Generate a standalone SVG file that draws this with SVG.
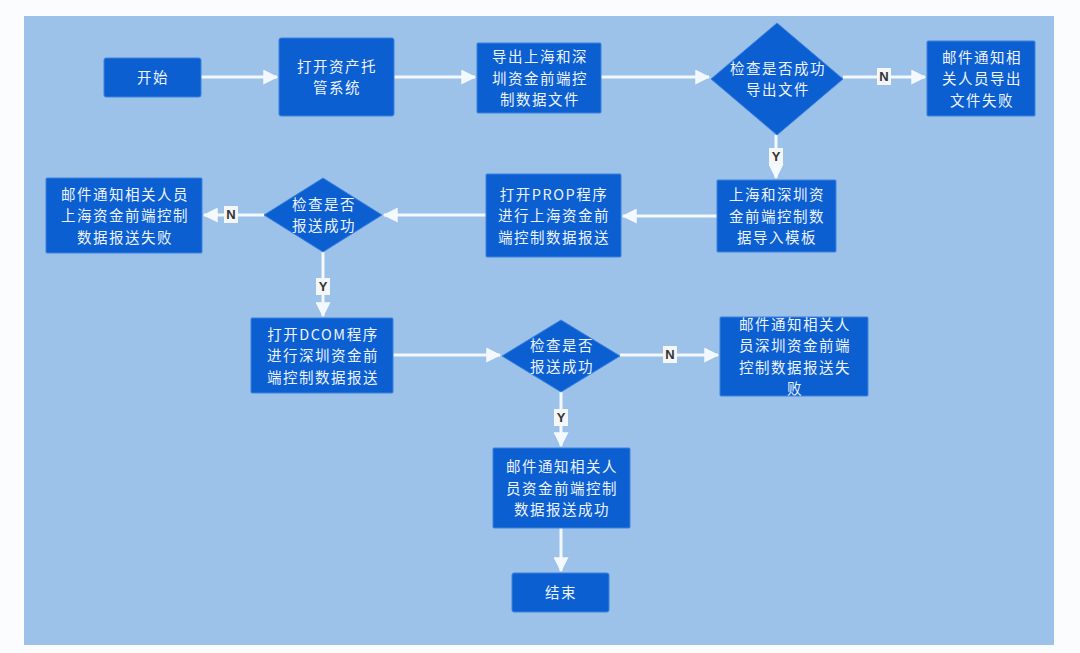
<svg xmlns="http://www.w3.org/2000/svg" width="1080" height="653" viewBox="0 0 1080 653">
<defs>
<style>
.box{fill:#0b5fd1;stroke:#3d83de;stroke-width:1}
.t{font-family:"Noto Sans CJK SC","Noto Sans",sans-serif;font-size:14.5px;letter-spacing:1.5px;fill:#eef4ff;text-anchor:middle}
.c{stroke:#f4f8ff;stroke-width:3;fill:none}
.lb{fill:#f4f6f8}
.lt{font-family:"Liberation Sans","DejaVu Sans",sans-serif;font-size:13px;font-weight:bold;fill:#333;text-anchor:middle}
</style>
<marker id="ah" viewBox="0 0 12 12" refX="11" refY="6" markerWidth="5" markerHeight="5" markerUnits="strokeWidth" orient="auto">
<path d="M0,0 L12,6 L0,12 z" fill="#f4f8ff"/>
</marker>
</defs>
<rect x="0" y="0" width="1080" height="653" fill="#fbfcfe"/>
<rect x="24" y="16" width="1030" height="629" fill="#9cc2e9"/>

<g id="connectors">
<line class="c" x1="201" y1="77" x2="277" y2="77" marker-end="url(#ah)"/>
<line class="c" x1="394" y1="77" x2="475" y2="77" marker-end="url(#ah)"/>
<line class="c" x1="601" y1="77" x2="709" y2="77" marker-end="url(#ah)"/>
<line class="c" x1="843" y1="77" x2="925" y2="77" marker-end="url(#ah)"/>
<line class="c" x1="776" y1="135" x2="776" y2="178" marker-end="url(#ah)"/>
<line class="c" x1="717" y1="216" x2="623" y2="216" marker-end="url(#ah)"/>
<line class="c" x1="486" y1="215" x2="384" y2="215" marker-end="url(#ah)"/>
<line class="c" x1="264" y1="215" x2="204" y2="215" marker-end="url(#ah)"/>
<line class="c" x1="323" y1="252" x2="323" y2="316" marker-end="url(#ah)"/>
<line class="c" x1="393" y1="355" x2="500" y2="355" marker-end="url(#ah)"/>
<line class="c" x1="620" y1="355" x2="718" y2="355" marker-end="url(#ah)"/>
<line class="c" x1="561" y1="392" x2="561" y2="446" marker-end="url(#ah)"/>
<line class="c" x1="561" y1="528" x2="561" y2="571" marker-end="url(#ah)"/>
<rect class="lb" x="877" y="68" width="14" height="17"/>
<text class="lt" x="884" y="81">N</text>
<rect class="lb" x="769" y="148" width="14" height="17"/>
<text class="lt" x="776" y="161">Y</text>
<rect class="lb" x="224" y="206" width="14" height="17"/>
<text class="lt" x="231" y="219">N</text>
<rect class="lb" x="316" y="278" width="14" height="17"/>
<text class="lt" x="323" y="291">Y</text>
<rect class="lb" x="663" y="346" width="14" height="17"/>
<text class="lt" x="670" y="359">N</text>
<rect class="lb" x="554" y="409" width="14" height="17"/>
<text class="lt" x="561" y="422">Y</text>
</g>

<g id="start">
<rect class="box" x="104" y="58" width="97" height="39" rx="2"/>
<text class="t" x="153" y="82.5">开始</text>
</g>
<g id="open">
<rect class="box" x="279" y="38" width="115" height="78" rx="2"/>
<text class="t" x="337" y="71.75">打开资产托</text>
<text class="t" x="337" y="93.25">管系统</text>
</g>
<g id="export">
<rect class="box" x="477" y="43" width="124" height="70" rx="1"/>
<text class="t" x="540" y="62">导出上海和深</text>
<text class="t" x="540" y="83.5">圳资金前端控</text>
<text class="t" x="540" y="105">制数据文件</text>
</g>
<g id="check1">
<polygon class="box" points="777,23 843,79 777,135 711,79"/>
<text class="t" x="778" y="73.75">检查是否成功</text>
<text class="t" x="778" y="95.25">导出文件</text>
</g>
<g id="fail1">
<rect class="box" x="927" y="41" width="108" height="75" rx="1"/>
<text class="t" x="982" y="62.5">邮件通知相</text>
<text class="t" x="982" y="84">关人员导出</text>
<text class="t" x="982" y="105.5">文件失败</text>
</g>
<g id="import">
<rect class="box" x="717" y="180" width="119" height="72" rx="1"/>
<text class="t" x="777" y="200">上海和深圳资</text>
<text class="t" x="777" y="221.5">金前端控制数</text>
<text class="t" x="777" y="243">据导入模板</text>
</g>
<g id="prop">
<rect class="box" x="486" y="174" width="135" height="83" rx="1"/>
<text class="t" x="554" y="199.5">打开PROP程序</text>
<text class="t" x="554" y="221">进行上海资金前</text>
<text class="t" x="554" y="242.5">端控制数据报送</text>
</g>
<g id="check2">
<polygon class="box" points="323,178 382,215 323,252 264,215"/>
<text class="t" x="324" y="209.75">检查是否</text>
<text class="t" x="324" y="231.25">报送成功</text>
</g>
<g id="fail2">
<rect class="box" x="46" y="178" width="156" height="75" rx="1"/>
<text class="t" x="125" y="199.5">邮件通知相关人员</text>
<text class="t" x="125" y="221">上海资金前端控制</text>
<text class="t" x="125" y="242.5">数据报送失败</text>
</g>
<g id="dcom">
<rect class="box" x="251" y="318" width="142" height="75" rx="1"/>
<text class="t" x="323" y="339.5">打开DCOM程序</text>
<text class="t" x="323" y="361">进行深圳资金前</text>
<text class="t" x="323" y="382.5">端控制数据报送</text>
</g>
<g id="check3">
<polygon class="box" points="561,320 620,356 561,392 502,356"/>
<text class="t" x="562" y="350.75">检查是否</text>
<text class="t" x="562" y="372.25">报送成功</text>
</g>
<g id="fail3">
<rect class="box" x="720" y="317" width="148" height="79" rx="1"/>
<text class="t" x="795" y="329.75">邮件通知相关人</text>
<text class="t" x="795" y="351.25">员深圳资金前端</text>
<text class="t" x="795" y="372.75">控制数据报送失</text>
<text class="t" x="795" y="394.25">败</text>
</g>
<g id="success">
<rect class="box" x="493" y="448" width="137" height="80" rx="1"/>
<text class="t" x="562" y="472">邮件通知相关人</text>
<text class="t" x="562" y="493.5">员资金前端控制</text>
<text class="t" x="562" y="515">数据报送成功</text>
</g>
<g id="end">
<rect class="box" x="512" y="573" width="97" height="39" rx="2"/>
<text class="t" x="561" y="598">结束</text>
</g>
</svg>
